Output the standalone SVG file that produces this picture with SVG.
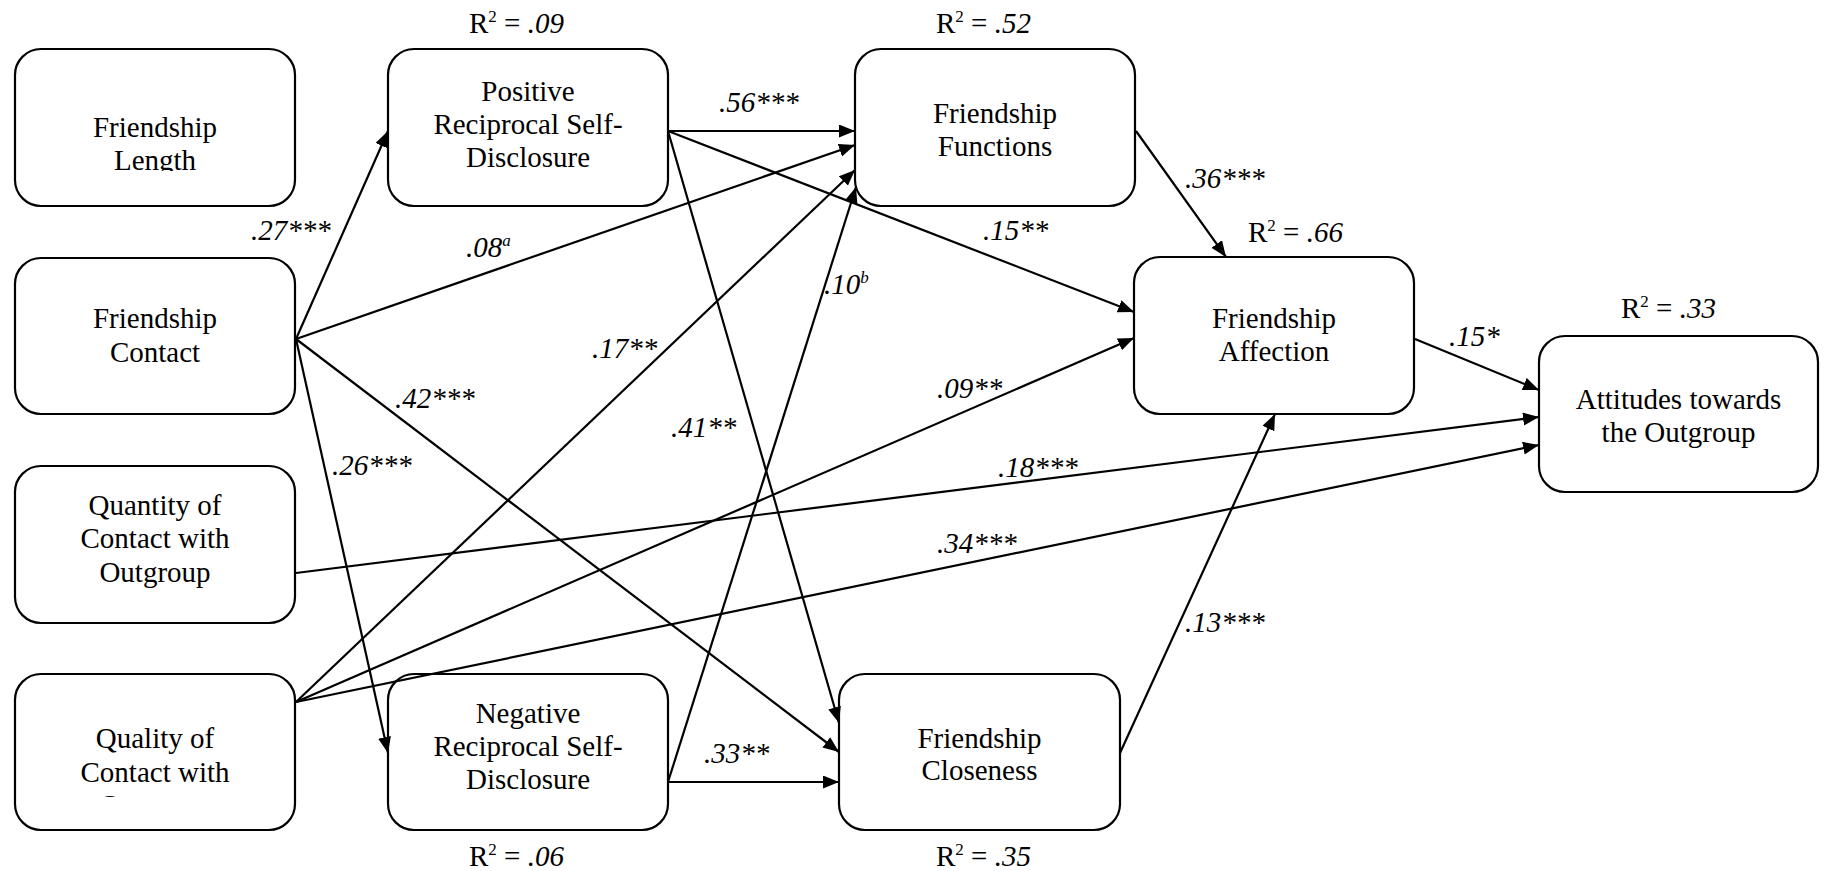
<svg xmlns="http://www.w3.org/2000/svg" width="1824" height="871" viewBox="0 0 1824 871">
<style>
.box{fill:#fff;stroke:#000;stroke-width:2.2}
.t{font-size:29px;fill:#000;text-anchor:middle}
.lbl{font-size:29px;font-style:italic;fill:#000}
.r2{font-size:29px;fill:#000}
.e{fill:none;stroke:#000;stroke-width:2.2;marker-end:url(#ah)}
</style>
<defs>
<marker id="ah" markerUnits="userSpaceOnUse" markerWidth="17" markerHeight="14" refX="16" refY="6.5" orient="auto">
<path d="M0,0 L16,6.5 L0,13 z" fill="#000"/>
</marker>
<clipPath id="clipLen"><rect x="15" y="49" width="280" height="122"/></clipPath>
<clipPath id="clipQual"><rect x="15" y="674" width="280" height="123"/></clipPath>
</defs>
<rect width="1824" height="871" fill="#fff"/>
<g font-family="Liberation Serif, Tinos, Times New Roman, DejaVu Serif, serif">
<g id="n-length">
<rect class="box" x="15" y="49" width="280" height="157" rx="26"/>
<g clip-path="url(#clipLen)"><text class="t" font-family="Liberation Serif, serif" x="155" y="137">Friendship</text><text class="t" font-family="Liberation Serif, serif" x="155" y="170">Length</text></g>
</g>
<g id="n-contact">
<rect class="box" x="15" y="258" width="280" height="156" rx="26"/>
<text class="t" font-family="Liberation Serif, serif" x="155" y="328">Friendship</text><text class="t" font-family="Liberation Serif, serif" x="155" y="362">Contact</text>
</g>
<g id="n-quantity">
<rect class="box" x="15" y="466" width="280" height="157" rx="26"/>
<text class="t" font-family="Liberation Serif, serif" x="155" y="515">Quantity of</text><text class="t" font-family="Liberation Serif, serif" x="155" y="548">Contact with</text><text class="t" font-family="Liberation Serif, serif" x="155" y="582">Outgroup</text>
</g>
<g id="n-quality">
<rect class="box" x="15" y="674" width="280" height="156" rx="26"/>
<g clip-path="url(#clipQual)"><text class="t" font-family="Liberation Serif, serif" x="155" y="748">Quality of</text><text class="t" font-family="Liberation Serif, serif" x="155" y="782">Contact with</text><text class="t" font-family="Liberation Serif, serif" x="155" y="815">Outgroup</text></g>
</g>
<g id="n-positive">
<rect class="box" x="388" y="49" width="280" height="157" rx="26"/>
<text class="t" font-family="Liberation Serif, serif" x="528" y="101">Positive</text><text class="t" font-family="Liberation Serif, serif" x="528" y="134">Reciprocal Self-</text><text class="t" font-family="Liberation Serif, serif" x="528" y="167">Disclosure</text>
<text class="r2" font-family="Liberation Serif, serif" x="469" y="33">R<tspan font-size="17" dy="-11">2</tspan><tspan dy="11"> = </tspan><tspan font-style="italic">.09</tspan></text>
</g>
<g id="n-negative">
<rect class="box" x="388" y="674" width="280" height="156" rx="26"/>
<text class="t" font-family="Liberation Serif, serif" x="528" y="723">Negative</text><text class="t" font-family="Liberation Serif, serif" x="528" y="756">Reciprocal Self-</text><text class="t" font-family="Liberation Serif, serif" x="528" y="789">Disclosure</text>
<text class="r2" font-family="Liberation Serif, serif" x="469" y="866">R<tspan font-size="17" dy="-11">2</tspan><tspan dy="11"> = </tspan><tspan font-style="italic">.06</tspan></text>
</g>
<g id="n-functions">
<rect class="box" x="855" y="49" width="280" height="157" rx="26"/>
<text class="t" font-family="Liberation Serif, serif" x="995" y="123">Friendship</text><text class="t" font-family="Liberation Serif, serif" x="995" y="156">Functions</text>
<text class="r2" font-family="Liberation Serif, serif" x="936" y="33">R<tspan font-size="17" dy="-11">2</tspan><tspan dy="11"> = </tspan><tspan font-style="italic">.52</tspan></text>
</g>
<g id="n-closeness">
<rect class="box" x="839" y="674" width="281" height="156" rx="26"/>
<text class="t" font-family="Liberation Serif, serif" x="979.5" y="748">Friendship</text><text class="t" font-family="Liberation Serif, serif" x="979.5" y="780">Closeness</text>
<text class="r2" font-family="Liberation Serif, serif" x="936" y="866">R<tspan font-size="17" dy="-11">2</tspan><tspan dy="11"> = </tspan><tspan font-style="italic">.35</tspan></text>
</g>
<g id="n-affection">
<rect class="box" x="1134" y="257" width="280" height="157" rx="26"/>
<text class="t" font-family="Liberation Serif, serif" x="1274" y="328">Friendship</text><text class="t" font-family="Liberation Serif, serif" x="1274" y="361">Affection</text>
<text class="r2" font-family="Liberation Serif, serif" x="1248" y="242">R<tspan font-size="17" dy="-11">2</tspan><tspan dy="11"> = </tspan><tspan font-style="italic">.66</tspan></text>
</g>
<g id="n-attitudes">
<rect class="box" x="1539" y="336" width="279" height="156" rx="26"/>
<text class="t" font-family="Liberation Serif, serif" x="1678.5" y="409">Attitudes towards</text><text class="t" font-family="Liberation Serif, serif" x="1678.5" y="442">the Outgroup</text>
<text class="r2" font-family="Liberation Serif, serif" x="1621" y="318">R<tspan font-size="17" dy="-11">2</tspan><tspan dy="11"> = </tspan><tspan font-style="italic">.33</tspan></text>
</g>

<g id="connectors">
<path class="e" d="M296,339 L388,131"/>
<path class="e" d="M296,339 L855,145"/>
<path class="e" d="M296,339 L388,753"/>
<path class="e" d="M296,339 L839,752"/>
<path class="e" d="M668,131 L855,131"/>
<path class="e" d="M668,131 L1134,312"/>
<path class="e" d="M668,131 L839,723"/>
<path class="e" d="M668,782 L856,187"/>
<path class="e" d="M668,782 L839,782"/>
<path class="e" d="M1136,131 L1226,257"/>
<path class="e" d="M296,702 L855,170"/>
<path class="e" d="M296,702 L1134,338"/>
<path class="e" d="M296,702 L1539,445"/>
<path class="e" d="M296,573 L1539,417"/>
<path class="e" d="M1415,339 L1539,390"/>
<path class="e" d="M1120,753 L1275,414"/>
</g>

<g id="labels" font-family="Liberation Serif, serif">
<text class="lbl" x="251" y="240">.27***</text>
<text class="lbl" x="466" y="257">.08<tspan font-size="17" dy="-11">a</tspan></text>
<text class="lbl" x="592" y="358">.17**</text>
<text class="lbl" x="395" y="408">.42***</text>
<text class="lbl" x="332" y="475">.26***</text>
<text class="lbl" x="671" y="437">.41**</text>
<text class="lbl" x="719" y="112">.56***</text>
<text class="lbl" x="983" y="240">.15**</text>
<text class="lbl" x="824" y="294">.10<tspan font-size="17" dy="-11">b</tspan></text>
<text class="lbl" x="937" y="398">.09**</text>
<text class="lbl" x="1185" y="188">.36***</text>
<text class="lbl" x="998" y="477">.18***</text>
<text class="lbl" x="937" y="553">.34***</text>
<text class="lbl" x="704" y="763">.33**</text>
<text class="lbl" x="1185" y="632">.13***</text>
<text class="lbl" x="1449" y="346">.15*</text>
</g>
</g>
</svg>
